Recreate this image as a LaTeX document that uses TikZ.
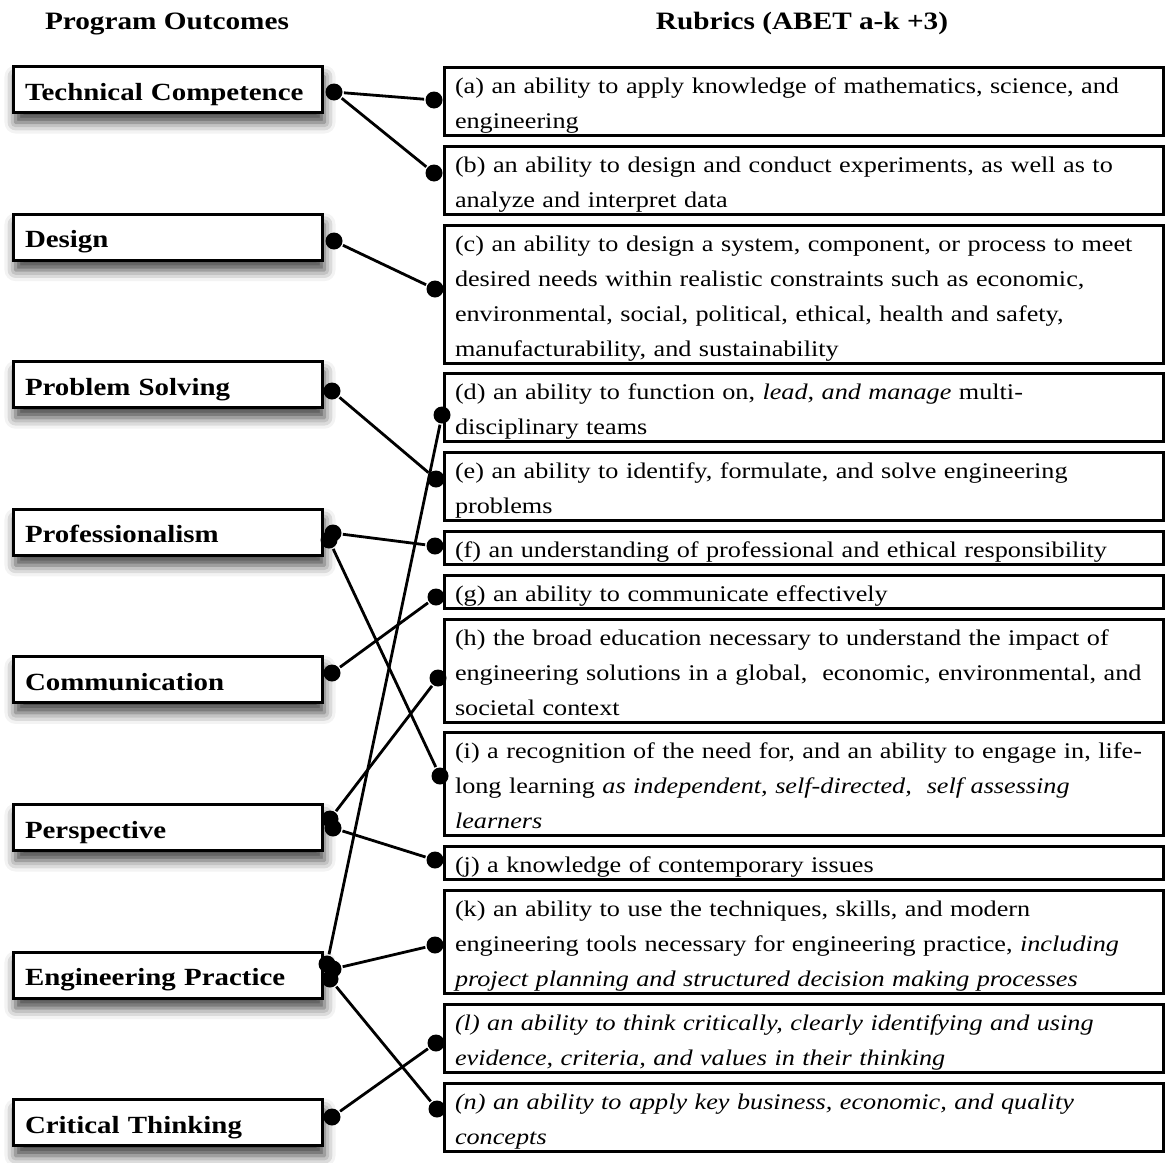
\documentclass[tikz,border=0pt]{standalone}
\usepackage{fontspec}
\setmainfont{Liberation Serif}[FakeStretch=1.17]
\usetikzlibrary{positioning,shadows.blur}

\newcommand{\rstrut}{\rule[-7pt]{0pt}{33pt}}

\begin{document}
\begin{tikzpicture}[x=1pt,y=-1pt,node distance=7.8pt,line width=2.8pt,
    outcome/.style={draw,line width=3pt,fill=white,minimum width=309pt,minimum height=46pt,text width=286pt,align=left,inner xsep=11.5pt,inner ysep=0pt,text height=22pt,text depth=1pt,font=\fontsize{24.7}{30}\selectfont\bfseries,blur shadow={shadow xshift=2pt,shadow yshift=-10pt,shadow blur radius=11pt,shadow opacity=75}},
    rubric/.style={draw,line width=3pt,minimum width=719pt,minimum height=33pt,text width=698pt,align=left,inner xsep=10.5pt,inner ysep=0pt,font=\fontsize{22.4}{35}\selectfont,execute at begin node=\rstrut,execute at end node=\rstrut},
    dot/.style={circle,fill=black,inner sep=0pt,minimum size=17pt},
    head/.style={font=\fontsize{25}{30}\selectfont\bfseries,inner sep=0pt,anchor=base}]

                \useasboundingbox (0,0) rectangle (1167,1162);

                \node[head] (po) at (167,29) {Program Outcomes};
                \node[head] (ru) at (802,29) {Rubrics (ABET a-k +3)};

                \node[outcome,anchor=north west] (tc) at (12,65) {Technical Competence};
                \node[outcome,below=98.6pt of tc] (de) {Design};
                \node[outcome,below=98.6pt of de] (ps) {Problem Solving};
                \node[outcome,below=98.6pt of ps] (pr) {Professionalism};
                \node[outcome,below=98.6pt of pr] (co) {Communication};
                \node[outcome,below=98.6pt of co] (pe) {Perspective};
                \node[outcome,below=98.6pt of pe] (ep) {Engineering Practice};
                \node[outcome,below=98.6pt of ep] (ct) {Critical Thinking};

                \node[rubric,anchor=north west] (ra) at (443,66) {(a) an ability to apply knowledge of mathematics, science, and\\engineering};
                \node[rubric,below=of ra] (rb) {(b) an ability to design and conduct experiments, as well as to\\analyze and interpret data};
                \node[rubric,below=of rb] (rc) {(c) an ability to design a system, component, or process to meet\\desired needs within realistic constraints such as economic,\\environmental, social, political, ethical, health and safety,\\manufacturability, and sustainability};
                \node[rubric,below=of rc] (rd) {(d) an ability to function on, \textit{lead, and manage} multi-\\disciplinary teams};
                \node[rubric,below=of rd] (re) {(e) an ability to identify, formulate, and solve engineering\\problems};
                \node[rubric,below=of re] (rf) {(f) an understanding of professional and ethical responsibility};
                \node[rubric,below=of rf] (rg) {(g) an ability to communicate effectively};
                \node[rubric,below=of rg] (rh) {(h) the broad education necessary to understand the impact of\\engineering solutions in a global,~ economic, environmental, and\\societal context};
                \node[rubric,below=of rh] (ri) {(i) a recognition of the need for, and an ability to engage in, life-\\long learning \textit{as independent, self-directed,~ self assessing}\\\textit{learners}};
                \node[rubric,below=of ri] (rj) {(j) a knowledge of contemporary issues};
                \node[rubric,below=of rj] (rk) {(k) an ability to use the techniques, skills, and modern\\engineering tools necessary for engineering practice, \textit{including}\\\textit{project planning and structured decision making processes}};
                \node[rubric,below=of rk] (rl) {\textit{(l) an ability to think critically, clearly identifying and using}\\\textit{evidence, criteria, and values in their thinking}};
                \node[rubric,below=of rl] (rn) {\textit{(n) an ability to apply key business, economic, and quality}\\\textit{concepts}};

                % dots on the outcomes
                \node[dot] (tc-d) at (334,92) {};
                \node[dot] (de-d) at (334,241) {};
                \node[dot] (ps-d) at (332,391) {};
                \node[dot] (pr-f) at (333,533) {};
                \node[dot] (pr-i) at (329,540) {};
                \node[dot] (co-d) at (332,673) {};
                \node[dot] (pe-h) at (330,819) {};
                \node[dot] (pe-j) at (333,828) {};
                \node[dot] (ep-d) at (327,964) {};
                \node[dot] (ep-k) at (333,969) {};
                \node[dot] (ep-n) at (330,979) {};
                \node[dot] (ct-d) at (332,1117) {};

                % dots on the rubrics
                \node[dot] (ra-d) at (434,100) {};
                \node[dot] (rb-d) at (434,173) {};
                \node[dot] (rc-d) at (435,289) {};
                \node[dot] (rd-d) at (442,415) {};
                \node[dot] (re-d) at (436,479) {};
                \node[dot] (rf-d) at (435,546) {};
                \node[dot] (rg-d) at (436,597) {};
                \node[dot] (rh-d) at (438,678) {};
                \node[dot] (ri-d) at (440,776) {};
                \node[dot] (rj-d) at (435,860) {};
                \node[dot] (rk-d) at (435,945) {};
                \node[dot] (rl-d) at (436,1043) {};
                \node[dot] (rn-d) at (437,1109) {};

                \path
                    (tc-d) edge (ra-d)
                    (tc-d) edge (rb-d)
                    (de-d) edge (rc-d)
                    (ps-d) edge (re-d)
                    (pr-f) edge (rf-d)
                    (pr-i) edge (ri-d)
                    (co-d) edge (rg-d)
                    (pe-h) edge (rh-d)
                    (pe-j) edge (rj-d)
                    (ep-d) edge (rd-d)
                    (ep-k) edge (rk-d)
                    (ep-n) edge (rn-d)
                    (ct-d) edge (rl-d)
                ;
            \end{tikzpicture}
\end{document}
